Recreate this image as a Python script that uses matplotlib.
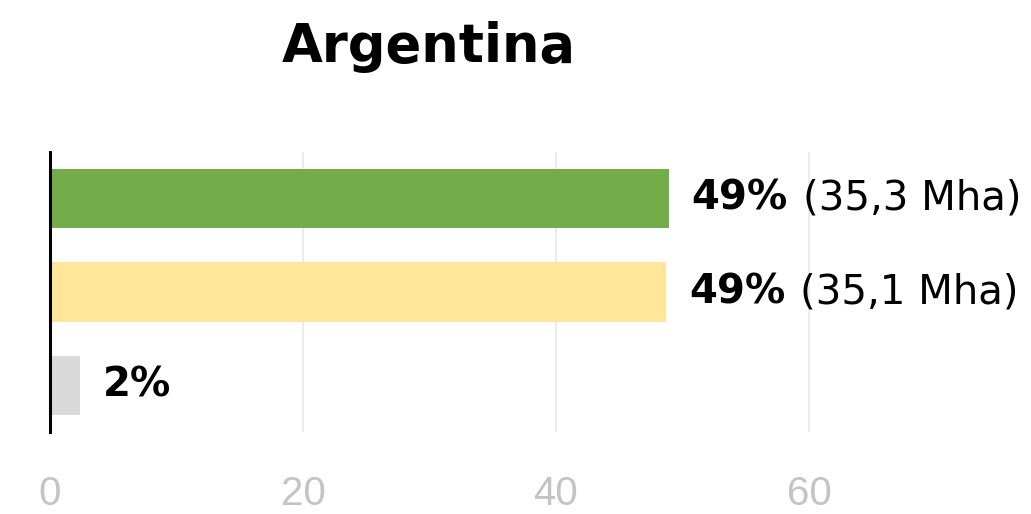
import matplotlib
matplotlib.use("Agg")
import matplotlib.pyplot as plt

# datos
titulo = "Argentina"
valores = [48.9, 48.7, 2.4]
pct = ["49%", "49%", "2%"]
detalle = ["(35,3 Mha)", "(35,1 Mha)", ""]
colores = ["#72ad4a", "#ffe699", "#d9d9d9"]
ticks = [0, 20, 40, 60]

fig = plt.figure(figsize=(10.31, 5.14), dpi=100)
ax = fig.add_axes([50 / 1031, 1 - 432 / 514, 974 / 1031, 280 / 514])

pos = list(range(len(valores)))
ax.barh(pos, valores, height=0.635, color=colores, zorder=2)
ax.set_ylim(2.5, -0.5)
ax.set_xlim(0, 77)

for s in ["top", "right", "bottom"]:
    ax.spines[s].set_visible(False)
ax.spines["left"].set_linewidth(2.2)
ax.spines["left"].set_color("black")
ax.spines["left"].set_zorder(3)

ax.set_yticks([])
ax.set_xticks(ticks)
ax.set_xticklabels([str(t) for t in ticks], family="Liberation Sans",
                   fontsize=29, color="#c4c4c4")
ax.tick_params(axis="x", length=0, pad=31)
ax.grid(axis="x", color="#ececec", lw=1.5, zorder=0)
ax.set_axisbelow(True)

for i, v in enumerate(valores):
    t1 = ax.annotate(pct[i], xy=(v, i), xytext=(23, 0), textcoords="offset pixels",
                     fontsize=29, fontweight="bold", va="center", ha="left",
                     family="DejaVu Sans", color="black")
    if detalle[i]:
        ax.annotate(detalle[i], xy=(1, 0), xycoords=t1, xytext=(15, 0),
                    textcoords="offset pixels", fontsize=29, va="bottom",
                    ha="left", family="DejaVu Sans", color="black")

fig.text(429 / 1031, 1 - 62 / 514, titulo, fontsize=38, fontweight="bold",
         ha="center", va="baseline", family="DejaVu Sans")

fig.savefig("out.png", dpi=100)
